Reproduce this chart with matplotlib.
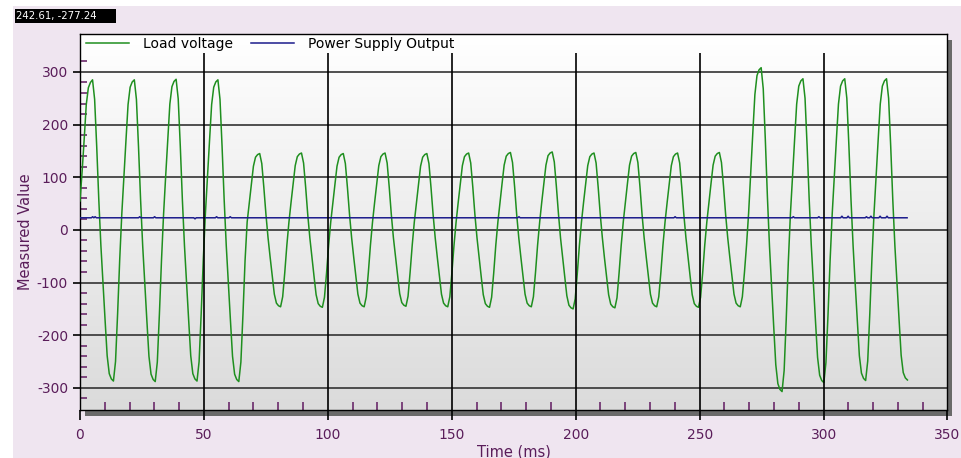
import numpy as np
import matplotlib
matplotlib.use("Agg")
import matplotlib.pyplot as plt
from matplotlib.patches import Rectangle
from matplotlib.ticker import MultipleLocator, FixedLocator
from matplotlib.colors import LinearSegmentedColormap

plt.rcParams['axes.unicode_minus'] = False
plt.rcParams['font.family'] = ['DejaVu Sans']

# ---------------- data ----------------
sample_interval_ms = 0.843

# Load voltage samples, one row per mains cycle (20 samples each)
load_voltage = [
    55, 110, 172, 238, 270, 280, 285, 248, 158, 57, -30, -102, -171, -239, -273, -283, -287, -250, -159, -57,
    30, 101, 170, 238, 271, 281, 285, 248, 158, 57, -30, -102, -172, -240, -274, -284, -288, -251, -160, -58,
    30, 102, 170, 239, 272, 282, 286, 249, 159, 57, -30, -102, -171, -239, -273, -283, -287, -250, -159, -57,
    30, 101, 170, 238, 271, 281, 285, 248, 158, 57, -30, -102, -172, -240, -274, -284, -288, -251, -160, -58,
    15, 51, 86, 121, 138, 143, 145, 126, 80, 29, -15, -52, -87, -122, -139, -144, -146, -127, -81, -29,
    15, 52, 87, 122, 139, 144, 146, 127, 81, 29, -15, -52, -88, -123, -140, -145, -147, -128, -82, -29,
    15, 51, 86, 121, 138, 143, 145, 126, 80, 29, -15, -52, -87, -122, -139, -144, -146, -127, -81, -29,
    15, 52, 87, 122, 139, 144, 146, 127, 81, 29, -15, -51, -86, -121, -138, -143, -145, -126, -80, -29,
    15, 51, 86, 121, 138, 143, 145, 126, 80, 29, -15, -52, -87, -122, -139, -144, -146, -127, -81, -29,
    15, 52, 87, 122, 139, 144, 146, 127, 81, 29, -15, -52, -88, -123, -140, -145, -147, -128, -82, -29,
    15, 52, 88, 123, 140, 145, 147, 128, 82, 29, -15, -52, -87, -122, -139, -144, -146, -127, -81, -29,
    15, 53, 88, 123, 141, 146, 148, 129, 82, 30, -16, -53, -89, -125, -143, -148, -150, -131, -83, -30,
    15, 52, 87, 122, 139, 144, 146, 127, 81, 29, -15, -53, -88, -123, -141, -146, -148, -129, -82, -30,
    15, 52, 88, 123, 140, 145, 147, 128, 82, 29, -15, -52, -87, -122, -139, -144, -146, -127, -81, -29,
    15, 52, 87, 122, 139, 144, 146, 127, 81, 29, -15, -52, -88, -123, -140, -145, -147, -128, -82, -29,
    15, 52, 88, 123, 140, 145, 147, 128, 82, 29, -15, -52, -87, -122, -139, -144, -146, -127, -81, -29,
    32, 109, 184, 257, 293, 304, 308, 268, 171, 62, -32, -109, -183, -256, -292, -303, -307, -267, -170, -61,
    30, 102, 171, 239, 273, 283, 287, 250, 159, 57, -30, -103, -173, -242, -276, -286, -290, -252, -161, -58,
    30, 102, 171, 239, 273, 283, 287, 250, 159, 57, -30, -102, -170, -239, -272, -282, -286, -249, -159, -57,
    30, 102, 171, 239, 273, 283, 287, 250, 159, 57, -30, -101, -170, -238, -271, -281, -285,
]

# Power supply output: steady level with a few small blips
supply_time_ms = [0, 4.6, 5.1, 5.6, 6.1, 6.6, 23.6, 24.1, 24.6, 29.6, 30.1, 30.6,
                  45.9, 46.4, 46.9, 54.6, 55.1, 55.6, 60.1, 60.6, 61.1,
                  176.6, 177.1, 177.6, 239.6, 240.1, 240.6, 287.3, 287.8, 288.3,
                  297.6, 298.1, 298.6, 306.9, 307.4, 307.9, 309.4, 309.9, 310.4,
                  316.8, 317.3, 317.8, 318.6, 319.1, 319.6, 322.3, 322.8, 323.3,
                  325.1, 325.6, 326.1, 333.7]
supply_values = [23, 23, 25, 23, 25, 23, 23, 25, 23, 23, 25, 23,
                 23, 21, 23, 23, 25, 23, 23, 25, 23,
                 23, 25, 23, 23, 25, 23, 23, 25, 23,
                 23, 25, 23, 23, 26, 23, 23, 26, 23,
                 23, 25, 23, 23, 26, 23, 23, 26, 23,
                 23, 26, 23, 23]

x_ticks = [0, 50, 100, 150, 200, 250, 300, 350]
y_ticks = [-300, -200, -100, 0, 100, 200, 300]
series_names = ["Load voltage", "Power Supply Output"]
readout_text = "242.61, -277.24"

time_ms = np.arange(len(load_voltage)) * sample_interval_ms

# ---------------- figure ----------------
W, H = 962, 458
fig = plt.figure(figsize=(W / 100, H / 100), dpi=100, facecolor='white')

# lavender backdrop
fig.patches.append(Rectangle((13 / W, 0), 1 - 13 / W, 1 - 6 / H, transform=fig.transFigure,
                             facecolor='#efe5f0', edgecolor='none', zorder=-3))

ax_l, ax_r, ax_t, ax_b = 80, 947.5, 34, 410
ax = fig.add_axes([ax_l / W, 1 - ax_b / H, (ax_r - ax_l) / W, (ax_b - ax_t) / H])

# drop shadow
fig.patches.append(Rectangle(((ax_l + 5) / W, 1 - (ax_b + 6) / H), (ax_r - ax_l) / W,
                             (ax_b - ax_t) / H, transform=fig.transFigure,
                             facecolor='#6a6a6a', edgecolor='none', zorder=-2))

# gradient plot background
cmap = LinearSegmentedColormap.from_list('bg', ['#dbdbdb', '#ffffff'])
grad = np.linspace(0, 1, 256).reshape(-1, 1)
ax.imshow(grad, extent=[0, 1, 0, 1], transform=ax.transAxes, aspect='auto',
          cmap=cmap, origin='lower', zorder=0, interpolation='bilinear')

xmin, xmax = 0, 350
ymin, ymax = -342, 372

# horizontal grid
ax.hlines(y_ticks, xmin, xmax, colors='#333333', linewidth=1.2, zorder=1)

ax.plot(time_ms, load_voltage, color='#1f8f1f', linewidth=1.1, label=series_names[0], zorder=3)
ax.plot(supply_time_ms, supply_values, color='#1c1c8c', linewidth=1.1, label=series_names[1], zorder=3)

# vertical grid (stops below legend)
ax.vlines(x_ticks[1:-1], ymin, 336, colors='black', linewidth=1.2, zorder=4)

ax.set_xlim(xmin, xmax)
ax.set_ylim(ymin, ymax)
ax.set_xticks(x_ticks)
ax.set_yticks(y_ticks)
ax.xaxis.set_minor_locator(MultipleLocator(10))
ax.yaxis.set_minor_locator(FixedLocator(np.arange(-320, 321, 20)))

label_color = '#5a1d5a'
ax.tick_params(which='major', direction='out', color='black', width=1.2,
               labelcolor=label_color, labelsize=10)
ax.tick_params(axis='x', which='major', length=7.2, pad=5.5)
ax.tick_params(axis='y', which='major', length=5, pad=3.6)
ax.tick_params(axis='x', which='minor', direction='in', length=6, width=1.2, color='#6b2a6b')
ax.tick_params(axis='y', which='minor', direction='in', length=5.3, width=1.2, color='#6b2a6b')

for s in ax.spines.values():
    s.set_color('black')
    s.set_linewidth(1.0)

ax.set_xlabel('Time (ms)', color=label_color, fontsize=10.5, labelpad=2)
ax.set_ylabel('Measured Value', color=label_color, fontsize=10.5)
ax.yaxis.set_label_coords((33.3 - ax_l) / (ax_r - ax_l), (ax_b - 231.7) / (ax_b - ax_t))

ax.legend(loc='upper left', bbox_to_anchor=(6 / (ax_r - ax_l), 1 - 3 / (ax_b - ax_t)),
          frameon=False, ncol=2, handlelength=3.1, handletextpad=1.0,
          columnspacing=1.3, borderpad=0, borderaxespad=0, fontsize=10)

# coordinate readout box
fig.patches.append(Rectangle((15 / W, 1 - 23 / H), 101 / W, 14 / H, transform=fig.transFigure,
                             facecolor='black', edgecolor='none', zorder=5))
fig.text(16.5 / W, 1 - 16 / H, readout_text, color='white', fontsize=7.3,
         va='center', ha='left', zorder=6)

fig.savefig('out.png', dpi=100, facecolor=fig.get_facecolor())
